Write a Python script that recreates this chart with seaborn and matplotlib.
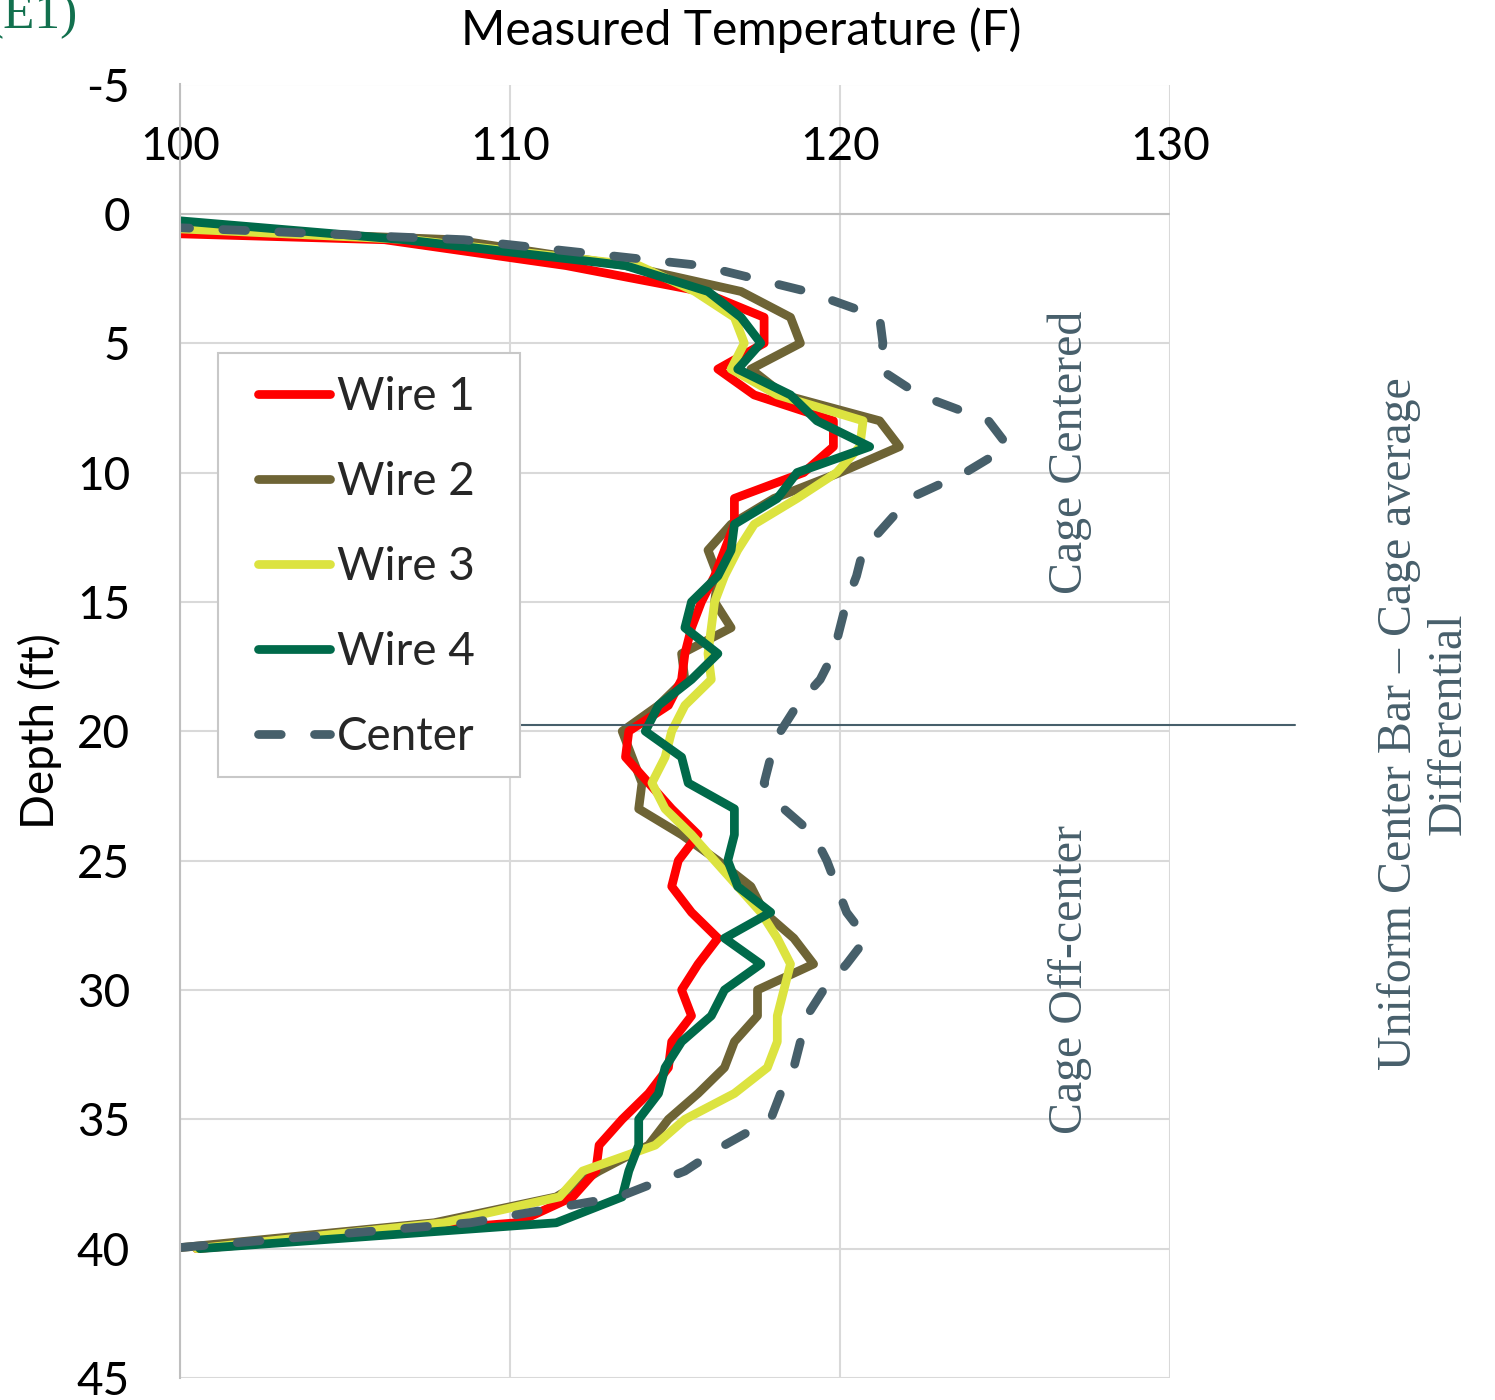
import matplotlib
matplotlib.use("Agg")
import matplotlib.pyplot as plt
import seaborn as sns
from matplotlib.lines import Line2D
from matplotlib.patches import Rectangle

# ---------------- data (depth in ft, temperature in F) ----------------
depth = list(range(0, 41))

wire1 = [79.0, 106.2, 111.7, 115.8, 117.7, 117.7, 116.3, 117.4, 119.8, 119.8,
         118.9, 116.8, 116.8, 116.5, 116.2, 115.8, 115.5, 115.3, 115.2, 114.8,
         113.6, 113.5, 114.2, 114.9, 115.7, 115.1, 114.9, 115.5, 116.3, 115.7,
         115.2, 115.5, 114.9, 114.8, 114.2, 113.4, 112.7, 112.6, 111.9, 110.2,
         100.5]
wire2 = [88.0, 108.3, 113.5, 117.0, 118.5, 118.8, 117.3, 118.3, 121.2, 121.8,
         120.0, 118.0, 116.7, 116.0, 116.3, 116.2, 116.7, 115.2, 115.3, 114.5,
         113.4, 113.7, 114.0, 113.9, 115.2, 116.3, 117.3, 117.7, 118.6, 119.2,
         117.5, 117.5, 116.8, 116.5, 115.7, 114.8, 114.2, 112.7, 111.4, 107.7,
         99.7]
wire3 = [90.3, 107.0, 113.9, 115.6, 116.8, 117.1, 116.7, 118.1, 120.7, 120.6,
         119.9, 118.7, 117.4, 116.9, 116.5, 116.2, 116.1, 116.0, 116.1, 115.3,
         114.9, 114.7, 114.3, 114.7, 115.5, 116.2, 116.9, 117.6, 118.1, 118.5,
         118.3, 118.1, 118.1, 117.8, 116.8, 115.3, 114.4, 112.2, 111.5, 108.0,
         100.5]
wire4 = [97.5, 106.8, 113.5, 116.0, 117.0, 117.6, 116.9, 118.5, 119.3, 120.9,
         118.7, 118.1, 116.8, 116.7, 116.3, 115.5, 115.3, 116.3, 115.5, 114.5,
         114.1, 115.2, 115.4, 116.8, 116.8, 116.6, 116.9, 117.9, 116.5, 117.6,
         116.5, 116.1, 115.2, 114.7, 114.5, 113.9, 113.9, 113.6, 113.4, 111.4,
         100.6]
center = [90.0, 108.6, 115.8, 119.0, 121.2, 121.3, 121.2, 122.4, 124.5, 125.1,
          123.8, 122.1, 121.4, 120.7, 120.5, 120.2, 120.0, 119.8, 119.4, 118.7,
          118.2, 117.9, 117.7, 118.3, 119.2, 119.6, 119.9, 120.2, 120.8, 120.2,
          119.5, 119.0, 118.8, 118.6, 118.2, 117.9, 116.5, 115.3, 113.3, 108.8,
          99.6]

series_names = ["Wire 1", "Wire 2", "Wire 3", "Wire 4", "Center"]
series_colors = ["#FF0000", "#6E6435", "#DCE340", "#006A4A", "#465F6A"]
xticks = [100, 110, 120, 130]
yticks = list(range(-5, 46, 5))
divider_depth = 19.75

# ---------------- style ----------------
sns.set_theme(style="white")
plt.rcParams["font.family"] = ["Lato", "DejaVu Sans"]
plt.rcParams["axes.unicode_minus"] = False
serif = ["Liberation Serif", "DejaVu Serif"]
slate = "#475F6B"

W, H = 1495, 1400
fig = plt.figure(figsize=(W / 100, H / 100), dpi=100)
ax = fig.add_axes([180 / W, 1 - 1378 / H, 990 / W, (1378 - 84.5) / H])

LW = 6.3
data_map = dict(zip(series_names, [wire1, wire2, wire3, wire4, center]))
col_map = dict(zip(series_names, series_colors))
dash = (0, (2.6, 3.8))

# drawing order (bottom -> top)
for name in ["Wire 2", "Wire 1", "Wire 3", "Wire 4", "Center"]:
    ls = dash if name == "Center" else "-"
    sns.lineplot(x=data_map[name], y=depth, sort=False, estimator=None,
                 color=col_map[name], lw=LW, linestyle=ls, ax=ax,
                 solid_joinstyle="round", solid_capstyle="round",
                 dash_capstyle="round", dash_joinstyle="round", legend=False)

ax.set_xlim(100, 130)
ax.set_ylim(45, -5)
ax.set_xticks(xticks)
ax.set_yticks(yticks)
ax.set_xlabel("")
ax.set_ylabel("")
ax.grid(True, color="#D9D9D9", lw=1.5)
ax.set_axisbelow(True)
ax.axhline(0, color="#BFBFBF", lw=1.5, zorder=1)
for s in ["top", "right", "bottom"]:
    ax.spines[s].set_visible(False)
ax.spines["left"].set_color("#BFBFBF")
ax.spines["left"].set_linewidth(1.5)

ax.xaxis.tick_top()
ax.tick_params(axis="x", length=0, pad=-60, labelsize=33,
               labeltop=True, labelbottom=False, colors="black")
ax.tick_params(axis="y", length=0, pad=36, labelsize=33, colors="black")

# divider line
ax.axhline(divider_depth, xmin=(520 - 180) / 990, xmax=(1295 - 180) / 990,
           color=slate, lw=1.5, clip_on=False, zorder=3)

# legend frame + legend
ax.add_patch(Rectangle((218 / W, 1 - 777 / H), (520 - 218) / W, (777 - 353) / H,
                       transform=fig.transFigure, facecolor="white",
                       edgecolor="#C8C8C8", lw=1.5, clip_on=False, zorder=4))
handles = []
for name in series_names:
    ls = dash if name == "Center" else "-"
    handles.append(Line2D([0], [0], color=col_map[name], lw=LW, linestyle=ls,
                          solid_capstyle="round", dash_capstyle="round"))
ax.legend(handles, series_names, loc="upper left",
          bbox_to_anchor=(258 / W, 1 - 376 / H), bbox_transform=fig.transFigure,
          frameon=False, borderpad=0, borderaxespad=0,
          handlelength=1.57, handletextpad=0.15, labelspacing=0.94, fontsize=33)

# titles
fig.text(741 / W, 1 - 45 / H, "Measured Temperature (F)", ha="center",
         va="baseline", fontsize=34.5, color="black")
fig.text(40 / W, 1 - 731 / H, "Depth (ft)", rotation=90, ha="center",
         va="center", fontsize=33, color="black")

# annotations
fig.text(1070 / W, 1 - 452 / H, "Cage Centered", rotation=90, ha="center",
         va="center", fontsize=34.5, color=slate, family=serif)
fig.text(1070 / W, 1 - 979 / H, "Cage Off-center", rotation=90, ha="center",
         va="center", fontsize=34.5, color=slate, family=serif)
fig.text(1424 / W, 1 - 724 / H, "Uniform Center Bar \u2013 Cage average\nDifferential",
         rotation=90, ha="center", va="center", multialignment="center",
         linespacing=1.15, fontsize=34.5, color=slate, family=serif)
fig.text(78 / W, 1 - 28 / H, "(E1)", ha="right", va="baseline", fontsize=37,
         color="#12704E", family=serif)

fig.savefig("out.png", dpi=100)
